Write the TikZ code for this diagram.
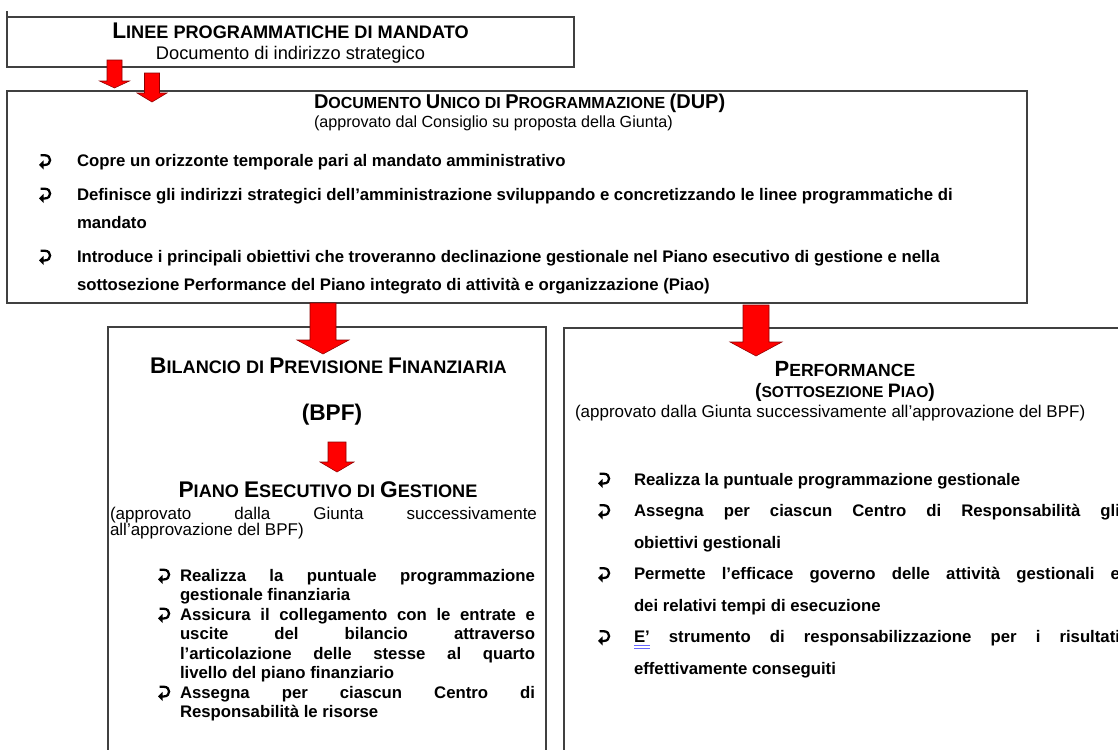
\documentclass[tikz,border=0pt]{standalone}
\usepackage{fontspec}
\setmainfont{Liberation Sans}
\newcommand{\scBig}[1]{{\fontsize{17}{17}\selectfont #1}}
\newcommand{\scSmall}[1]{{\fontsize{13.6}{13.6}\selectfont #1}}
\newcommand{\scBigD}[1]{{\fontsize{15}{15}\selectfont #1}}
\newcommand{\scSmallD}[1]{{\fontsize{12}{12}\selectfont #1}}
\newcommand{\scBigP}[1]{{\fontsize{16.5}{16.5}\selectfont #1}}
\newcommand{\scSmallP}[1]{{\fontsize{13.2}{13.2}\selectfont #1}}
\newcommand{\scBigQ}[1]{{\fontsize{14.6}{14.6}\selectfont #1}}
\newcommand{\scSmallQ}[1]{{\fontsize{11.7}{11.7}\selectfont #1}}
\newcommand{\blockarrow}[6]{%
  \filldraw[arrowst] ({#1-#5},#2) -- ({#1+#5},#2) -- ({#1+#5},#3) -- ({#1+#6},#3) -- (#1,#4) -- ({#1-#6},#3) -- ({#1-#5},#3) -- cycle;}
\begin{document}
\begin{tikzpicture}[x=0.75pt,y=-0.75pt,
  boxst/.style={draw=black!75,line width=0.8pt,inner sep=0pt,outer sep=0pt},
  txt/.style={inner sep=0pt,outer sep=0pt,anchor=base west,text=black},
  ctxt/.style={inner sep=0pt,outer sep=0pt,anchor=base,text=black},
  arrowst/.style={fill=red,draw=red!55!black,line width=0.4pt},
  bul/.pic={
    \draw[line width=1.7pt] (1.5,-11.2) -- (6,-11.2) .. controls (12.8,-11.2) and (12.8,-1.6) .. (6,-1.6) -- (3.5,-1.6);
    \fill (0,-1.6) -- (4.6,-6.2) -- (4.6,3) -- cycle;
  },
  bodyb/.style={font=\bfseries\fontsize{12.56}{15}\selectfont},
  subt/.style={font=\fontsize{13.7}{16}\selectfont},
  subd/.style={font=\fontsize{12.1}{14}\selectfont},
  small/.style={font=\fontsize{12.75}{15}\selectfont}
]
\useasboundingbox (0,0) rectangle (1118,750);
\clip (0,0) rectangle (1118,750);

% boxes
\node[boxst,anchor=north west,minimum width=425.25pt,minimum height=37.5pt] (top) at (7,17) {};
\node[boxst,anchor=north west,minimum width=765pt,minimum height=159pt] (dup) at (7,91) {};
\node[boxst,anchor=north west,minimum width=328.5pt,minimum height=330pt] (bpf) at (108,327) {};
\node[boxst,anchor=north west,minimum width=427.5pt,minimum height=330pt] (perf) at (564,328) {};
\draw[black!75,line width=0.8pt] (top.north west) -- ++(0,-6);

% top box text
\node[ctxt,font=\bfseries] (t1) at (290.5,38) {\scBig{L}\scSmall{INEE PROGRAMMATICHE DI MANDATO}};
\node[ctxt,subt] (t2) at (290.5,59) {Documento di indirizzo strategico};

% arrows top
\blockarrow{114.5}{60}{81}{88}{7.5}{15}
\blockarrow{152}{73}{93}{102}{7.5}{15}

% DUP text
\node[txt,font=\bfseries] (d0) at (314,108.5) {\scBigD{D}\scSmallD{OCUMENTO }\scBigD{U}\scSmallD{NICO DI }\scBigD{P}\scSmallD{ROGRAMMAZIONE }\scBigD{(DUP)}};
\node[txt,subd] (d0b) at (314,127) {(approvato dal Consiglio su proposta della Giunta)};
\node[txt,bodyb] (d1) at (77,166.5) {Copre un orizzonte temporale pari al mandato amministrativo};
\node[txt,bodyb] (d2) at (77,200) {Definisce gli indirizzi strategici dell’amministrazione sviluppando e concretizzando le linee programmatiche di};
\node[txt,bodyb] (d3) at (77,228.5) {mandato};
\node[txt,bodyb] (d4) at (77,262) {Introduce i principali obiettivi che troveranno declinazione gestionale nel Piano esecutivo di gestione e nella};
\node[txt,bodyb] (d5) at (77,290.5) {sottosezione Performance del Piano integrato di attività e organizzazione (Piao)};
\pic at (39,166.5) {bul};
\pic at (39,200) {bul};
\pic at (39,262) {bul};

% big arrows
\blockarrow{323}{303}{340}{354}{13}{26}
\blockarrow{756}{305}{342}{356}{13}{26}

% left box
\node[ctxt,font=\bfseries] (b1) at (328.5,373) {\scBig{B}\scSmall{ILANCIO DI }\scBig{P}\scSmall{REVISIONE }\scBig{F}\scSmall{INANZIARIA}};
\node[ctxt,font=\bfseries\fontsize{17}{17}\selectfont] (b2) at (332,420) {(BPF)};
\blockarrow{337}{442}{462}{472}{9}{17}
\node[ctxt,font=\bfseries] (b3) at (328,497) {\scBig{P}\scSmall{IANO }\scBig{E}\scSmall{SECUTIVO DI }\scBig{G}\scSmall{ESTIONE}};
\node[txt,small] (b4) at (110,519) {\makebox[320.25pt][s]{(approvato dalla Giunta successivamente}};
\node[txt,small] (b5) at (110,535) {all’approvazione del BPF)};
\node[txt,bodyb] (l1) at (180,581) {\makebox[266.25pt][s]{Realizza la puntuale programmazione}};
\node[txt,bodyb] (l2) at (180,600.5) {gestionale finanziaria};
\node[txt,bodyb] (l3) at (180,620) {\makebox[266.25pt][s]{Assicura il collegamento con le entrate e}};
\node[txt,bodyb] (l4) at (180,639.5) {\makebox[266.25pt][s]{uscite del bilancio attraverso}};
\node[txt,bodyb] (l5) at (180,659) {\makebox[266.25pt][s]{l’articolazione delle stesse al quarto}};
\node[txt,bodyb] (l6) at (180,678.5) {livello del piano finanziario};
\node[txt,bodyb] (l7) at (180,698) {\makebox[266.25pt][s]{Assegna per ciascun Centro di}};
\node[txt,bodyb] (l8) at (180,717.5) {Responsabilità le risorse};
\pic at (158,581) {bul};
\pic at (158,620) {bul};
\pic at (158,698) {bul};

% right box
\node[ctxt,font=\bfseries] (p1) at (845,376) {\scBigP{P}\scSmallP{ERFORMANCE}};
\node[ctxt,font=\bfseries] (p2) at (845,397) {\scBigQ{(}\scSmallQ{SOTTOSEZIONE }\scBigQ{P}\scSmallQ{IAO}\scBigQ{)}};
\node[txt,small] (p3) at (575,417) {(approvato dalla Giunta successivamente all’approvazione del BPF)};
\node[txt,bodyb] (r1) at (634,485) {Realizza la puntuale programmazione gestionale};
\node[txt,bodyb] (r2) at (634,516.5) {\makebox[364.5pt][s]{Assegna per ciascun Centro di Responsabilità gli}};
\node[txt,bodyb] (r3) at (634,548) {obiettivi gestionali};
\node[txt,bodyb] (r4) at (634,579.5) {\makebox[364.5pt][s]{Permette l’efficace governo delle attività gestionali e}};
\node[txt,bodyb] (r5) at (634,611) {dei relativi tempi di esecuzione};
\node[txt,bodyb] (r6) at (634,642.5) {\makebox[364.5pt][s]{E’ strumento di responsabilizzazione per i risultati}};
\node[txt,bodyb] (r7) at (634,674) {effettivamente conseguiti};
\pic at (598,485) {bul};
\pic at (598,516.5) {bul};
\pic at (598,579.5) {bul};
\pic at (598,642.5) {bul};
\draw[blue!60!white,line width=0.45pt] (634,645.5) -- (650,645.5);
\draw[blue!60!white,line width=0.45pt] (634,648) -- (650,648);
\end{tikzpicture}
\end{document}
